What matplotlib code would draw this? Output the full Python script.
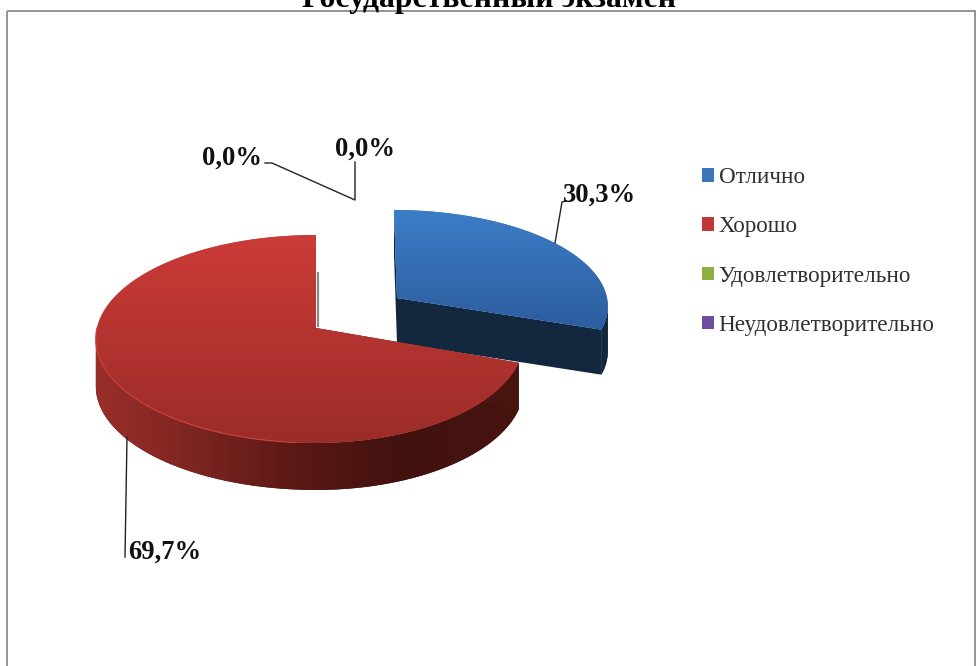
import numpy as np
import matplotlib
matplotlib.use("Agg")
import matplotlib.pyplot as plt
from matplotlib.patches import PathPatch, Patch, Rectangle
from matplotlib.path import Path
from matplotlib.colors import to_rgb

title = "Государственный экзамен"
categories = ["Отлично", "Хорошо", "Удовлетворительно", "Неудовлетворительно"]
values = [30.3, 69.7, 0.0, 0.0]
legend_colors = ["#3A75B8", "#C23835", "#8DB040", "#6E4C9E"]

W, H = 977, 666
plt.rcParams["font.family"] = ["Liberation Serif", "DejaVu Serif"]
fig = plt.figure(figsize=(W / 100, H / 100), dpi=100)
ax = fig.add_axes([0, 0, 1, 1])

wedges, _ = ax.pie(values, startangle=90, counterclock=False, radius=1, center=(0, 0))
for w in wedges:
    w.set_visible(False)
ax.set_aspect("auto")
ax.set_xlim(0, W)
ax.set_ylim(H, 0)
ax.axis("off")

# Perspective set-up of each slice: apex, radii, foreshortening, extrusion
GEOM = {
    0: dict(cx=397, cy=298, rxl=210, rxr=210, ry=94.5, k=0.074, skew=-3, depth=45),
    1: dict(cx=316, cy=328, rxl=219, rxr=207, ry=102.8, k=0.1056, skew=0, depth=47),
}


def project(theta, g, r=1.0, drop=0.0):
    t = np.radians(theta)
    x, y = r * np.cos(t), r * np.sin(t)
    w = 1 + g["k"] * y
    rx = np.where(x < 0, g["rxl"], g["rxr"])
    return np.column_stack([g["cx"] + x * rx / w + g["skew"] * y,
                            g["cy"] - g["ry"] * y / w + drop])


def poly(pts, **kw):
    p = PathPatch(Path(np.vstack([pts, pts[:1]]), closed=True), **kw)
    ax.add_patch(p)
    return p


def shade(patch, stops, horizontal=False, z=3):
    verts = patch.get_path().vertices
    x0, y0 = verts.min(axis=0)
    x1, y1 = verts.max(axis=0)
    pos = np.linspace(0, 1, 256)
    sp = [s[0] for s in stops]
    cols = np.array([to_rgb(s[1]) for s in stops])
    arr = np.stack([np.interp(pos, sp, cols[:, i]) for i in range(3)], axis=-1)
    arr = arr[None, :, :] if horizontal else arr[:, None, :]
    im = ax.imshow(arr, extent=(x0, x1, y1, y0), origin="upper", aspect="auto",
                   interpolation="bilinear", zorder=z)
    im.set_clip_path(patch)


def draw_slice(idx, top_stops, wall_stops, z):
    g = GEOM[idx]
    w = wedges[idx]
    th = np.linspace(w.theta1, w.theta2, 600)
    apex = project(np.array([0.0]), g, r=0.0)
    apex_low = project(np.array([0.0]), g, r=0.0, drop=g["depth"])
    top = project(th, g)
    bot = project(th, g, drop=g["depth"])
    # outer rim: only the part of the arc that faces the viewer
    mask = np.gradient(top[:, 0]) > 0
    rim = poly(np.vstack([top[mask], bot[mask][::-1]]), fc=wall_stops[-1][1], ec="none", zorder=z)
    shade(rim, wall_stops, horizontal=True, z=z)
    # cut faces
    for end in (0, -1):
        face = np.vstack([apex, top[[end]], bot[[end]], apex_low])
        poly(face, fc=wall_stops[-1][1] if idx == 1 else wall_stops[0][1], ec="none", zorder=z + 0.1)
    # upper face
    face = poly(np.vstack([apex, top]), fc=top_stops[0][1], ec="none", zorder=z + 0.2)
    shade(face, top_stops, z=z + 0.2)


draw_slice(0, [(0, "#3C7DC6"), (1, "#2C5D9E")], [(0, "#13273F"), (1, "#13273F")], 3)
draw_slice(1, [(0, "#CB3B38"), (1, "#9B2C28")],
           [(0, "#9A2E2A"), (0.25, "#7A2420"), (0.48, "#5A1814"),
            (0.72, "#421210"), (1, "#47140F")], 4)
front = project(np.linspace(-180, -95, 120), GEOM[1])
ax.plot(front[:, 0], front[:, 1], color="#C8403C", lw=0.9, zorder=4.5)
ax.plot([318, 318], [273, 326], color="#8a8a8a", lw=1.6, zorder=2)

# frame
ax.add_patch(Rectangle((7, 11), 968, 700, fc="none", ec="#949494", lw=1.4, zorder=1, clip_on=False))

# title, cut by the top edge of the image as in the source
ax.text(489, 7, title, ha="center", va="baseline", fontsize=22.9, fontweight="bold", color="black", zorder=6)

# data labels and leader lines
fmt = [f"{v:.1f}%".replace(".", ",") for v in values]
lbl = dict(fontsize=19.2, fontweight="bold", color="#111111", va="center", zorder=6)
ax.text(563, 195, fmt[0], ha="left", **lbl)
ax.text(128, 552, fmt[1], ha="left", **lbl)
ax.text(202, 158, fmt[2], ha="left", **lbl)
ax.text(335, 149, fmt[3], ha="left", **lbl)
lead = dict(color="#222222", lw=1.0, zorder=5)
ax.plot([555, 562, 566], [243, 202, 201], **lead)
ax.plot([127, 125], [437, 557], **lead)
ax.plot([265, 272, 355, 355], [163, 163, 200, 162], **lead)

handles = [Patch(fc=c, ec="none") for c in legend_colors]
leg = ax.legend(handles, categories, loc="upper left", bbox_to_anchor=(702 / W, 1 - 167 / H),
                bbox_transform=fig.transFigure, frameon=False, fontsize=16.7, borderpad=0,
                borderaxespad=0, handlelength=0.52, handleheight=0.52, handletextpad=0.2,
                labelspacing=1.22, labelcolor="#303030")
leg.set_zorder(6)

fig.savefig("out.png", dpi=100)
